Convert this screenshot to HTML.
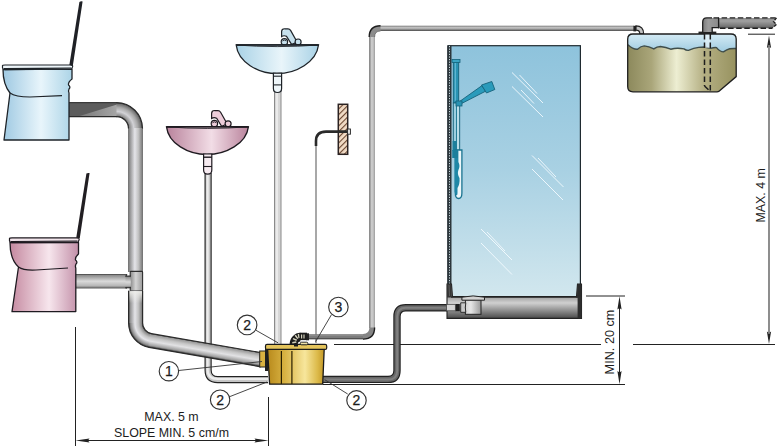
<!DOCTYPE html>
<html><head><meta charset="utf-8"><style>
html,body{margin:0;padding:0;background:#fff;}
svg{display:block;}
text{font-family:"Liberation Sans",sans-serif;fill:#1c1c1c;}
</style></head><body>
<svg width="780" height="448" viewBox="0 0 780 448">
<defs>
<linearGradient id="gBlue" x1="0" y1="0" x2="1" y2="0">
<stop offset="0" stop-color="#9fc9e2"/><stop offset="0.55" stop-color="#e8f5fb"/><stop offset="1" stop-color="#acd4e7"/></linearGradient>
<linearGradient id="gPink" x1="0" y1="0" x2="1" y2="0">
<stop offset="0" stop-color="#c4889f"/><stop offset="0.57" stop-color="#f7e6ed"/><stop offset="1" stop-color="#c28fa8"/></linearGradient>
<linearGradient id="gSinkB" x1="0" y1="0" x2="1" y2="0">
<stop offset="0" stop-color="#a9d2e6"/><stop offset="0.55" stop-color="#e9f5fa"/><stop offset="1" stop-color="#a9d2e6"/></linearGradient>
<linearGradient id="gSinkP" x1="0" y1="0" x2="1" y2="0">
<stop offset="0" stop-color="#b9839c"/><stop offset="0.55" stop-color="#f2dde6"/><stop offset="1" stop-color="#b9839c"/></linearGradient>
<linearGradient id="gPipeV" x1="0" y1="0" x2="1" y2="0">
<stop offset="0" stop-color="#2e2e2e"/><stop offset="0.08" stop-color="#8a8a8a"/><stop offset="0.45" stop-color="#e4e4e8"/><stop offset="0.7" stop-color="#c2c2c2"/><stop offset="0.92" stop-color="#8a8a8a"/><stop offset="1" stop-color="#2e2e2e"/></linearGradient>
<linearGradient id="gPipeH" x1="0" y1="0" x2="0" y2="1">
<stop offset="0" stop-color="#2e2e2e"/><stop offset="0.08" stop-color="#666"/><stop offset="0.4" stop-color="#6e6e6e"/><stop offset="0.75" stop-color="#a8a8a8"/><stop offset="0.92" stop-color="#8a8a8a"/><stop offset="1" stop-color="#2e2e2e"/></linearGradient>
<linearGradient id="gPipeH2" x1="0" y1="0" x2="0" y2="1">
<stop offset="0" stop-color="#2e2e2e"/><stop offset="0.08" stop-color="#8a8a8a"/><stop offset="0.5" stop-color="#dadada"/><stop offset="0.8" stop-color="#b8b8b8"/><stop offset="0.92" stop-color="#8a8a8a"/><stop offset="1" stop-color="#2e2e2e"/></linearGradient>
<linearGradient id="gPipeV2" x1="0" y1="0" x2="1" y2="0">
<stop offset="0" stop-color="#858585"/><stop offset="0.2" stop-color="#9a9a9a"/><stop offset="0.45" stop-color="#d2d2d2"/><stop offset="0.75" stop-color="#bcbcbc"/><stop offset="1" stop-color="#9c9c9c"/></linearGradient>
<linearGradient id="gPipeH3" x1="0" y1="0" x2="0" y2="1">
<stop offset="0" stop-color="#7e7e7e"/><stop offset="0.15" stop-color="#999"/><stop offset="0.4" stop-color="#cacaca"/><stop offset="0.7" stop-color="#8e8e8e"/><stop offset="0.9" stop-color="#5e5e5e"/><stop offset="1" stop-color="#777"/></linearGradient>
<linearGradient id="gTrap" x1="0" y1="0" x2="1" y2="0">
<stop offset="0" stop-color="#d0d0d0"/><stop offset="0.35" stop-color="#e6e6e6"/><stop offset="1" stop-color="#9a9a9a"/></linearGradient>
<linearGradient id="gTopLight" gradientUnits="userSpaceOnUse" x1="80" y1="0" x2="117" y2="0">
<stop offset="0" stop-color="#7a7a7a"/><stop offset="1" stop-color="#a6a6a6"/></linearGradient>
<radialGradient id="gBendTop" gradientUnits="userSpaceOnUse" cx="116.5" cy="128.6" r="26">
<stop offset="0.4615" stop-color="#2e2e2e"/><stop offset="0.505" stop-color="#8a8a8a"/><stop offset="0.66" stop-color="#d2d2d6"/><stop offset="0.82" stop-color="#a8a8a8"/><stop offset="0.95" stop-color="#707070"/><stop offset="1" stop-color="#2e2e2e"/></radialGradient>
<radialGradient id="gBendLow" gradientUnits="userSpaceOnUse" cx="153.3" cy="323.05" r="24.7">
<stop offset="0.433" stop-color="#2e2e2e"/><stop offset="0.48" stop-color="#8a8a8a"/><stop offset="0.6" stop-color="#c2c2c2"/><stop offset="0.745" stop-color="#e4e4e8"/><stop offset="0.92" stop-color="#8a8a8a"/><stop offset="1" stop-color="#2e2e2e"/></radialGradient>
<linearGradient id="gDiag" gradientUnits="userSpaceOnUse" x1="151.47" y1="333.59" x2="149.08" y2="347.38">
<stop offset="0" stop-color="#2e2e2e"/><stop offset="0.08" stop-color="#9a9a9a"/><stop offset="0.3" stop-color="#c6c6c6"/><stop offset="0.55" stop-color="#e2e2e4"/><stop offset="0.85" stop-color="#a0a0a0"/><stop offset="1" stop-color="#2e2e2e"/></linearGradient>
<linearGradient id="gTee" x1="0" y1="0" x2="1" y2="0">
<stop offset="0" stop-color="#8a8a8a"/><stop offset="0.45" stop-color="#d4d4d4"/><stop offset="1" stop-color="#9a9a9a"/></linearGradient>
<linearGradient id="gFadeW" x1="0" y1="0" x2="0" y2="1">
<stop offset="0" stop-color="#eeeeea" stop-opacity="0.95"/><stop offset="1" stop-color="#eeeeea" stop-opacity="0"/></linearGradient>
<linearGradient id="gVentV" x1="0" y1="0" x2="1" y2="0">
<stop offset="0" stop-color="#7c7c7c"/><stop offset="0.35" stop-color="#9c9c9c"/><stop offset="1" stop-color="#8a8a8a"/></linearGradient>
<linearGradient id="gVentH" x1="0" y1="0" x2="0" y2="1">
<stop offset="0" stop-color="#8c8c8c"/><stop offset="0.3" stop-color="#a0a0a0"/><stop offset="0.7" stop-color="#7e7e7e"/><stop offset="1" stop-color="#5e5e5e"/></linearGradient>
<linearGradient id="gGold" x1="0" y1="0" x2="1" y2="0">
<stop offset="0" stop-color="#b88a1c"/><stop offset="0.3" stop-color="#d8b242"/><stop offset="0.66" stop-color="#f7e69c"/><stop offset="0.88" stop-color="#dcba4a"/><stop offset="1" stop-color="#c49826"/></linearGradient>
<linearGradient id="gGlass" x1="0" y1="0" x2="0" y2="1">
<stop offset="0" stop-color="#8ec3dc"/><stop offset="0.5" stop-color="#a9d1e3"/><stop offset="1" stop-color="#d2e7ee"/></linearGradient>
<linearGradient id="gTank" x1="0" y1="0" x2="1" y2="0">
<stop offset="0" stop-color="#8c895c"/><stop offset="0.22" stop-color="#aaa67a"/><stop offset="0.45" stop-color="#edeed2"/><stop offset="0.7" stop-color="#b5b084"/><stop offset="1" stop-color="#97925f"/></linearGradient>
<linearGradient id="gWater" x1="0" y1="0" x2="0" y2="1">
<stop offset="0" stop-color="#d4ebf5"/><stop offset="1" stop-color="#9fcbe0"/></linearGradient>
<linearGradient id="gTray" x1="0" y1="0" x2="0" y2="1">
<stop offset="0" stop-color="#4a4a4a"/><stop offset="0.35" stop-color="#9a9a9a"/><stop offset="0.55" stop-color="#d0d0d0"/><stop offset="1" stop-color="#4a4a4a"/></linearGradient>
<linearGradient id="gDark" x1="0" y1="0" x2="0" y2="1">
<stop offset="0" stop-color="#555"/><stop offset="0.5" stop-color="#8a8a8a"/><stop offset="1" stop-color="#555"/></linearGradient>
<pattern id="hatch" width="4" height="4" patternUnits="userSpaceOnUse" patternTransform="rotate(45)">
<rect width="4" height="4" fill="#f2dcc6"/><rect width="1.1" height="4" fill="#6a4630"/></pattern>
</defs>

<!-- ===== dimension lines ===== -->
<g stroke="#222" stroke-width="1" fill="none">
<line x1="75.5" y1="327" x2="75.5" y2="446"/>
<line x1="268.5" y1="397" x2="268.5" y2="446"/>
<line x1="80" y1="440.5" x2="264" y2="440.5"/>
<line x1="334" y1="344.5" x2="601" y2="344.5"/>
<line x1="633" y1="344.5" x2="775" y2="344.5"/>
<line x1="323" y1="384.5" x2="625" y2="384.5"/>
<line x1="586" y1="296" x2="625" y2="296"/>
<line x1="748" y1="34.2" x2="775" y2="34.2"/>
<line x1="619.5" y1="300" x2="619.5" y2="380"/>

</g>
<g fill="#222">
<path d="M75.5,440.5 L89.5,438.4 L88,440.5 L89.5,442.6 Z"/>
<path d="M268.5,440.5 L254.5,438.4 L256,440.5 L254.5,442.6 Z"/>
<path d="M619.5,296.3 L617.4,309.5 L619.5,308 L621.6,309.5 Z"/>
<path d="M619.5,384.2 L617.4,371 L619.5,372.5 L621.6,371 Z"/>
<path d="M769,35.4 L766.9,48 L769,46.5 L771.1,48 Z"/>
<path d="M769,344 L766.9,331.4 L769,332.9 L771.1,331.4 Z"/>
</g>

<line x1="769" y1="45" x2="769" y2="334" stroke="#7a7a7a" stroke-width="1.7"/>
<!-- ===== thin pipes (behind) ===== -->
<!-- blue sink pipe -->
<rect x="274.5" y="88" width="6.5" height="258" fill="#d6d6d6" stroke="#8a8a8a" stroke-width="1"/>
<line x1="277" y1="92" x2="277" y2="345" stroke="#f0f0f0" stroke-width="1.5"/>
<!-- wall tap thin pipe -->
<line x1="316" y1="146" x2="316" y2="343" stroke="#a8a8a8" stroke-width="2"/>
<!-- pink sink pipe -->
<path d="M208.1,173 L208.1,370 Q208.1,379.6 217.7,379.6 L268,379.6" fill="none" stroke="#222" stroke-width="7.2"/>
<path d="M208.1,173 L208.1,370 Q208.1,379.6 217.7,379.6 L268,379.6" fill="none" stroke="#c6c6c6" stroke-width="4.9"/>
<path d="M207.6,174 L207.6,370 Q207.6,378.9 217.7,378.9 L268,378.9" fill="none" stroke="#ececec" stroke-width="2.2"/>

<!-- pump to tank pipe -->
<rect x="369" y="36" width="6" height="292" fill="url(#gPipeV2)"/>
<rect x="380" y="25.7" width="254" height="5.3" fill="url(#gPipeH3)"/>
<path d="M372,37 Q372,28.35 380.5,28.35" fill="none" stroke="#8c8c8c" stroke-width="5.4"/>
<path d="M369.2,37 Q369.2,25.7 380.5,25.7" fill="none" stroke="#1e1e1e" stroke-width="1.4"/>
<path d="M374.6,37 Q374.6,31 380.5,31" fill="none" stroke="#6a6a6a" stroke-width="0.8"/>
<rect x="306" y="334.2" width="57.5" height="4.9" fill="#7b7b7b"/>
<line x1="306" y1="338.8" x2="363.5" y2="338.8" stroke="#3a3a3a" stroke-width="0.9"/>
<line x1="306" y1="335.6" x2="363.5" y2="335.6" stroke="#8e8e8e" stroke-width="1"/>
<path d="M363,336.6 Q372,336.6 372,327.5" fill="none" stroke="#858585" stroke-width="5.2"/>
<path d="M363,339.1 Q374.6,339.1 374.6,327.5" fill="none" stroke="#1e1e1e" stroke-width="1.4"/>
<!-- shower drain pipe -->
<path d="M322,379.4 L388,379.4 Q397,379.4 397,370.4 L397,316.6 Q397,307.8 405.8,307.8 L448,307.8" fill="none" stroke="#222" stroke-width="7.4"/>
<path d="M322,379.4 L388,379.4 Q397,379.4 397,370.4 L397,316.6 Q397,307.8 405.8,307.8 L448,307.8" fill="none" stroke="#666" stroke-width="5"/>
<path d="M322,379.6 L388,379.6 Q397.2,379.6 397.2,370.4 L397.2,316.6 Q397.2,307.8 405.8,307.8 L448,307.8" fill="none" stroke="#808080" stroke-width="2"/>

<!-- ===== big toilet pipes ===== -->
<g id="bigpipe">
<!-- top horizontal -->
<rect x="68" y="102.6" width="49" height="14" fill="#5c5c5c"/>
<path d="M78,116.6 L117,104.6 L117,116.6 Z" fill="url(#gTopLight)"/>
<line x1="68" y1="102.6" x2="117" y2="102.6" stroke="#3a3a3a" stroke-width="1.1"/>
<line x1="68" y1="116.6" x2="117" y2="116.6" stroke="#2a2a2a" stroke-width="1.1"/>
<path d="M116.5,102.6 A26,26 0 0 1 142.5,128.6 L128.5,128.6 A12,12 0 0 0 116.5,116.6 Z" fill="url(#gBendTop)"/>
<path d="M116.5,102.6 A26,26 0 0 1 142.5,128.6" fill="none" stroke="#2a2a2a" stroke-width="1.2"/>
<path d="M116.5,116.6 A12,12 0 0 1 128.5,128.6" fill="none" stroke="#2a2a2a" stroke-width="1.2"/>
<!-- vertical -->
<rect x="128.3" y="128" width="14.4" height="144" fill="url(#gPipeV)"/>
<!-- pink toilet horizontal -->
<rect x="74" y="274" width="53" height="14.4" fill="url(#gPipeH2)"/>
<!-- T -->
<rect x="130.2" y="271.4" width="12.4" height="19.4" rx="0.8" fill="url(#gTee)" stroke="#2e2e2e" stroke-width="1.1"/>
<rect x="125.5" y="276" width="5.4" height="11.8" fill="url(#gPipeH2)"/>
<path d="M125.5,276 L131,276 M125.5,287.8 L131,287.8" stroke="#2e2e2e" stroke-width="1"/>
<path d="M126.8,274.2 Q126.8,276 125.5,276 M126.8,288.2 Q126.8,287.8 125.5,287.8" stroke="#2e2e2e" stroke-width="1" fill="none"/>

<!-- lower vertical + bend + diagonal -->
<rect x="128.6" y="290.7" width="14" height="33" fill="url(#gPipeV)"/>
<rect x="129.2" y="291.2" width="12.8" height="12" fill="url(#gFadeW)"/>
<path d="M128.6,323.05 A24.7,24.7 0 0 0 149.08,347.38 L151.47,333.59 A10.7,10.7 0 0 1 142.6,323.05 Z" fill="url(#gBendLow)"/>
<path d="M148.1,347.2 L260.8,366.8 L263.2,353.0 L150.5,333.4 Z" fill="url(#gDiag)"/>
<g fill="none" stroke="#2a2a2a" stroke-width="1.2">
<path d="M128.6,290.7 L128.6,323.05 A24.7,24.7 0 0 0 149.08,347.38 L260.8,366.8"/>
<path d="M142.6,290.7 L142.6,323.05 A10.7,10.7 0 0 0 151.47,333.59 L263.2,353.0"/>
</g>
</g>

<!-- ===== toilets ===== -->
<g id="toiletB">
<path d="M79.4,2 Q80.8,0.9 82.6,1.5 L72.8,66 L69.2,66 Z" fill="#1f2126"/>
<path d="M3,69.5 C3,80 6,88 10,93 L4,140 L69,140 L69,93 Q68,91 69,89 Q71,87 68.5,85 Q68,82 72,79 L72,69 Z" fill="url(#gBlue)" stroke="#1e2328" stroke-width="1.3" stroke-linejoin="round"/>
<path d="M10,93 C14,96 20,97 30,97 L62,95.6" fill="none" stroke="#1e2328" stroke-width="1.2"/>
<path d="M2.5,66.2 Q2,65 5,65 L70,65 Q73.5,65 72.5,67 L71.5,69 L5,69.6 Q2,69.4 2.5,66.2 Z" fill="#eef6fa" stroke="#1e2328" stroke-width="1.2"/>
<line x1="4" y1="68.6" x2="71" y2="68.2" stroke="#1e2328" stroke-width="1.2"/>
</g>
<g id="toiletP">
<path d="M86.4,173.6 Q87.8,172.5 89.6,173.1 L79.8,238 L76.2,238 Z" fill="#211e22"/>
<path d="M10,242.5 C10,253 13,262 18.5,267 L12,311.6 L75.8,311.6 L75.8,268 Q75,266 76,264 Q78,262 75.5,260 Q75,257 78.5,254 L78.5,242.5 Z" fill="url(#gPink)" stroke="#1e1a20" stroke-width="1.3" stroke-linejoin="round"/>
<path d="M18.5,267 C22,269.5 27,270.5 36,270 L68,268" fill="none" stroke="#1e1a20" stroke-width="1.2"/>
<path d="M9.5,239 Q9,237.8 12,237.8 L76.5,237.8 Q80,237.8 79,240 L78,242.3 L12,242.6 Q9,242.4 9.5,239 Z" fill="#f3e6ec" stroke="#1e1a20" stroke-width="1.2"/>
<line x1="11" y1="241.5" x2="77.5" y2="241.2" stroke="#1e1a20" stroke-width="1.2"/>
</g>

<!-- ===== sinks ===== -->
<g id="sinkB">
<!-- faucet -->
<g id="fauB" stroke="#1e2328" stroke-width="1.2" fill="#c6e0ec">
<path d="M281.6,36.6 L281.6,31.6 Q281.6,28.8 284.6,28.8 L288,28.8 Q289.6,28.8 290.6,30.4 L297.2,42.2 L291.6,44.4 L286.6,36.4 Q284,35 281.6,36.6 Z"/>
<path d="M283,30.5 L284.5,30" stroke="#eef7fb" stroke-width="1" fill="none"/>
<circle cx="284.4" cy="41.8" r="3.2"/>
<circle cx="298.1" cy="42" r="3"/>
<path d="M282.4,41 Q284.4,39 286.4,41" fill="none" stroke-width="0.9"/>
</g>
<path d="M236.2,45 C238,62 258,73.6 277,73.6 C296,73.6 316.5,62 318.5,45 Z" fill="url(#gSinkB)" stroke="#1e2328" stroke-width="1.3"/>
<path d="M236.2,45 L318.5,45 Q277,48.2 236.2,45 Z" fill="#cfe4ee" stroke="#1e2328" stroke-width="0.9"/>
<line x1="236.2" y1="45" x2="318.5" y2="45" stroke="#1e2328" stroke-width="1.5"/>
<path d="M273.4,73.2 L281.6,73.2 L281.6,88.5 Q281.6,92.5 277.5,92.5 Q273.4,92.5 273.4,88.5 Z" fill="#eef6fa" stroke="#1e2328" stroke-width="1.2"/>
<line x1="273.4" y1="76.2" x2="281.6" y2="76.2" stroke="#1e2328" stroke-width="1.1"/>
<line x1="273.4" y1="84.9" x2="281.6" y2="84.9" stroke="#1e2328" stroke-width="1.1"/>
</g>
<g id="sinkP">
<g id="fauP" transform="translate(-70,81.8)" stroke="#1e1a20" stroke-width="1.2" fill="#ecccd9">
<path d="M281.6,36.6 L281.6,31.6 Q281.6,28.8 284.6,28.8 L288,28.8 Q289.6,28.8 290.6,30.4 L297.2,42.2 L291.6,44.4 L286.6,36.4 Q284,35 281.6,36.6 Z"/>
<path d="M283,30.5 L284.5,30" stroke="#f8e8ef" stroke-width="1" fill="none"/>
<circle cx="284.4" cy="41.8" r="3.2"/>
<circle cx="298.1" cy="42" r="3"/>
<path d="M282.4,41 Q284.4,39 286.4,41" fill="none" stroke-width="0.9"/>
</g>
<path d="M166.5,126.8 C168.5,143.5 188,154.5 207,154.5 C226,154.5 246.4,143.5 248.4,126.8 Z" fill="url(#gSinkP)" stroke="#1e1a20" stroke-width="1.3"/>
<path d="M166.5,126.8 L248.4,126.8 Q207,130 166.5,126.8 Z" fill="#e8d0da" stroke="#1e1a20" stroke-width="0.9"/>
<line x1="166.5" y1="126.8" x2="248.4" y2="126.8" stroke="#1e1a20" stroke-width="1.5"/>
<path d="M203.6,154 L211.8,154 L211.8,170 Q211.8,174.1 207.7,174.1 Q203.6,174.1 203.6,170 Z" fill="#f6eaf0" stroke="#1e1a20" stroke-width="1.2"/>
<line x1="203.6" y1="157.2" x2="211.8" y2="157.2" stroke="#1e1a20" stroke-width="1.4"/>
<line x1="203.6" y1="166.5" x2="211.8" y2="166.5" stroke="#1e1a20" stroke-width="1.1"/>
</g>

<!-- ===== wall tap ===== -->
<rect x="338.3" y="104.3" width="9.4" height="50" fill="url(#hatch)" stroke="#2a2222" stroke-width="1.5"/>
<path d="M316,146 L316,141 Q316,131.6 326,131.6 L348,131.6" fill="none" stroke="#2a2a2a" stroke-width="2.6"/>
<rect x="347.5" y="129" width="3" height="5.2" fill="#ddd" stroke="#2a2a2a" stroke-width="0.9"/>

<!-- ===== pump ===== -->
<g id="pump">
<rect x="259.7" y="351" width="6.5" height="16" fill="#d8b040" stroke="#222" stroke-width="1"/>
<rect x="265" y="346" width="3.2" height="25" fill="#1e1e1e"/>
<path d="M267.6,349 L324.2,349 L322.7,384.2 L269.6,384.2 Z" fill="url(#gGold)" stroke="#1a1a1a" stroke-width="1.3" stroke-linejoin="round"/>
<line x1="281.4" y1="351" x2="281.4" y2="384" stroke="#2a2000" stroke-width="1.2"/>
<line x1="291.9" y1="351" x2="291.9" y2="384" stroke="#2a2000" stroke-width="1.2"/>
<rect x="265.5" y="344.4" width="61.2" height="5" rx="1.5" fill="#e4c45c" stroke="#1a1a1a" stroke-width="1.2"/>
<rect x="294" y="344.5" width="4" height="2" fill="#1a1a1a"/>
<rect x="300.4" y="342.2" width="7.4" height="2.6" rx="1" fill="#efe2a8" stroke="#1a1a1a" stroke-width="0.9"/>
<!-- black elbow -->
<path d="M289.6,344.4 A10.8,11.6 0 0 1 300.4,332.8 L300.4,341.6 A2.6,2.8 0 0 0 297.8,344.4 Z" fill="#1c1c1c"/>
<g stroke="#d4d2bc" stroke-width="1.5"><line x1="292.3" y1="342.8" x2="296.3" y2="342"/><line x1="293" y1="338.6" x2="296.7" y2="340.3"/><line x1="295.2" y1="335.2" x2="297.8" y2="338.6"/><line x1="298.4" y1="334" x2="299.2" y2="338"/></g>
<rect x="299.6" y="332.7" width="7.4" height="7.4" fill="#1c1c1c"/>
<g stroke="#d4d2bc" stroke-width="1.2"><line x1="301.6" y1="334.6" x2="301.6" y2="338.4"/><line x1="304" y1="334.6" x2="304" y2="338.4"/></g>
<rect x="306.2" y="333.3" width="2.8" height="7" fill="#222"/>
</g>

<!-- ===== shower ===== -->
<rect x="448" y="45.7" width="132.4" height="252" fill="url(#gGlass)" stroke="#1f2a30" stroke-width="1.2"/>
<g stroke="#f4fbff" stroke-width="1" opacity="0.9">
<line x1="512" y1="72.5" x2="543" y2="103"/><line x1="519.5" y1="75" x2="537" y2="93.5"/>
<line x1="512" y1="86.5" x2="543" y2="117"/><line x1="521" y1="90" x2="534" y2="103.5"/>
<line x1="532" y1="155.5" x2="563.5" y2="187"/><line x1="538" y1="158" x2="556" y2="177"/>
<line x1="532" y1="169" x2="563" y2="200"/>
<line x1="481" y1="229" x2="512" y2="260"/><line x1="487" y1="232" x2="505" y2="251"/>
<line x1="481" y1="243" x2="512" y2="274.5"/>
</g>
<!-- hinge / edge -->
<rect x="447.3" y="45.7" width="4.2" height="252" fill="#2c363b"/>
<line x1="449.5" y1="46" x2="449.5" y2="297" stroke="#c8d8de" stroke-width="1" stroke-dasharray="1.2,1.4"/>
<!-- riser -->
<rect x="453.3" y="61" width="5.4" height="42" fill="#2a93b3" stroke="#16627a" stroke-width="0.9"/>
<line x1="455.3" y1="63" x2="455.3" y2="101" stroke="#6cbfd8" stroke-width="1"/>
<rect x="453.3" y="103" width="6.4" height="47" fill="#9ccfe0" stroke="#16627a" stroke-width="0.9"/>
<line x1="456.5" y1="105" x2="456.5" y2="150" stroke="#1a7490" stroke-width="0.9"/>
<line x1="458" y1="105" x2="458" y2="150" stroke="#e6f4f8" stroke-width="0.8"/>
<rect x="452.6" y="141" width="4" height="10" fill="#1d7f9c"/>
<rect x="452" y="59.4" width="8" height="3" fill="#3ba4c2" stroke="#16627a" stroke-width="0.8"/>
<!-- hose loop -->
<path d="M455.3,150 L455.3,193 Q455.3,198.5 458.6,198.5 Q461.9,198.5 461.9,193 L461.9,150 Z" fill="#eef7fa" stroke="#1a7490" stroke-width="1.3"/>
<path d="M454.6,151 L458.4,151 L458.4,162 Q460.5,166 458.4,170 Q457,174 459.5,178 Q460,184 457.5,188 L457.5,193 Q457.5,196 456,195 L454.6,192 Z" fill="#1f87a6"/>
<path d="M452.2,150 L458,150 L458,158 L452.2,158 Z" fill="#1d7f9c"/>
<!-- handle & head -->
<path d="M458.6,102.2 L482,85.6 L485.6,91.2 L460,104.3 Z" fill="#2a9bbb" stroke="#16627a" stroke-width="0.9"/>
<path d="M481.5,85 L491.8,81.5 L494.8,89.5 L486.5,93 Z" fill="#2a9bbb" stroke="#16627a" stroke-width="0.9"/>
<rect x="456" y="101" width="6" height="5" fill="#2a93b3" stroke="#16627a" stroke-width="0.8"/>
<!-- tray -->
<path d="M447,284 L451.5,284 L452.5,296.5 L576.5,296.5 L577.5,284 L581.5,284 L581.5,318.4 L447,318.4 Z" fill="url(#gTray)" stroke="#222" stroke-width="1.1"/>
<line x1="451" y1="297" x2="578" y2="297" stroke="#222" stroke-width="1.5"/>
<path d="M447,284 L451.3,284 L451.8,296 L452.8,297.5 L447,297.5 Z" fill="#353535"/>
<path d="M581.5,284 L577.4,284 L577,296 L575.8,297.5 L581.5,297.5 Z" fill="#2c2c2c"/>
<rect x="577.6" y="297" width="4" height="21.4" fill="#2e2e2e"/>
<line x1="449" y1="285" x2="449.5" y2="296" stroke="#666" stroke-width="0.8"/>
<!-- drain trap -->
<rect x="465.4" y="299.8" width="15.6" height="14.5" fill="url(#gTrap)" stroke="#222" stroke-width="1"/>
<path d="M461.9,297.2 Q473,294.6 484.5,297.2 L484.5,300.2 L461.9,300.2 Z" fill="#d2d2d2" stroke="#222" stroke-width="1"/>
<path d="M460.7,302.8 L465.8,302.8 Q464.8,307.5 465.8,312.3 L460.7,312.3 Z" fill="#c8c8c8" stroke="#222" stroke-width="0.9"/>
<rect x="455.2" y="304" width="4.6" height="7.2" fill="#1e1e1e"/>
<rect x="446.5" y="304.5" width="8.8" height="6.3" fill="#d6d6d6" stroke="#444" stroke-width="0.7"/>

<!-- ===== tank ===== -->
<path d="M633.4,25.8 L636.2,25.8 L636.2,31.4 L633.4,31.4 Z" fill="#222"/>
<path d="M636,25.8 Q643.6,25.8 643.6,33.8 L639.8,33.8 Q639.8,30.2 636,30.2 Z" fill="#c4c4c4" stroke="#222" stroke-width="1.2"/>
<path d="M633,34 L731,34 Q736.2,34 736.2,39 L736.2,76.6 L719,91.2 Q718.3,91.8 717,91.8 L633,91.8 Q627.7,91.8 627.7,86.5 L627.7,39.3 Q627.7,34 633,34 Z" fill="url(#gTank)"/>
<path d="M628,34 L736,34 L736,48.5 Q733,48.3 729.7,48.8 Q727,49.5 723.4,51.9 Q720,51.8 716.5,47.6 Q714,47.4 710.5,48.4 L704,47 Q702,47 698.7,47.4 Q694,48 688.4,50.4 Q686,50.5 684,48.9 Q677,47.5 670.7,49.2 Q666,47 660.4,46.5 Q657,46.5 653.8,48.9 Q649,46.5 644.2,45.9 Q641,46 637.5,49.2 Q633,49.5 628,44.7 Z" fill="url(#gWater)"/>
<path d="M628,44.7 Q633,49.5 637.5,49.2 Q641,46 644.2,45.9 Q649,46.5 653.8,48.9 Q657,46.5 660.4,46.5 Q666,47 670.7,49.2 Q677,47.5 684,48.9 Q686,50.5 688.4,50.4 Q694,48 698.7,47.4 Q702,47 704,47 L710.5,48.4 Q714,47.4 716.5,47.6 Q720,51.8 723.4,51.9 Q727,49.5 729.7,48.8 Q733,48.3 736,48.5" fill="none" stroke="#3f4d4a" stroke-width="1.4"/>
<path d="M633,34 L731,34 Q736.2,34 736.2,39 L736.2,76.6 L719,91.2 Q718.3,91.8 717,91.8 L633,91.8 Q627.7,91.8 627.7,86.5 L627.7,39.3 Q627.7,34 633,34 Z" fill="none" stroke="#1e1e1e" stroke-width="1.3"/>
<rect x="705" y="34.5" width="5" height="13.5" fill="#eef7fb" opacity="0.55"/>
<g stroke="#1e1e1e" stroke-width="1.5" stroke-dasharray="5.5,3" fill="none">
<line x1="704.5" y1="34" x2="704.5" y2="86"/><line x1="710.3" y1="34" x2="710.3" y2="91"/>
<line x1="704.5" y1="86" x2="710.3" y2="91.5"/>
</g>
<rect x="698.5" y="31.6" width="17.8" height="2.4" fill="#222"/>
<!-- vent pipe -->
<path d="M702.7,32 L702.7,22 Q702.7,17.9 706.8,17.9 L718.6,17.9 L718.6,27.6 L712.2,27.6 L712.2,32 Z" fill="url(#gVentV)"/>
<path d="M702.7,32 L702.7,22 Q702.7,17.9 706.8,17.9 L712,17.9 M718.6,27.6 L712.2,27.6 L712.2,32" fill="none" stroke="#1e1e1e" stroke-width="1.3"/>
<path d="M718.6,17.9 L776.5,17.9 L773.5,21.5 L776.5,24.5 L772,28.2 L718.6,28.2 Z" fill="url(#gVentH)"/>
<line x1="718.6" y1="17.6" x2="718.6" y2="28.4" stroke="#1e1e1e" stroke-width="1.3"/>
<g stroke="#1e1e1e" stroke-width="1.35" stroke-dasharray="5.5,2.6" fill="none">
<line x1="713.5" y1="17.9" x2="776.5" y2="17.9"/><line x1="720" y1="28.2" x2="772" y2="28.2"/>
<path d="M776.5,17.9 L773.5,21.5 L776.5,24.5 L772,28.2" stroke-dasharray="3,1.5"/>
</g>

<!-- ===== callouts ===== -->
<g stroke="#333" stroke-width="0.9" fill="none">
<line x1="178.6" y1="370.5" x2="262" y2="361.5"/>
<line x1="255.5" y1="330" x2="278" y2="342.8"/>
<line x1="228.8" y1="397" x2="267" y2="382"/>
<line x1="347.7" y1="394" x2="324.6" y2="379.6"/>
<line x1="331.4" y1="314.8" x2="315.6" y2="341.6"/>
</g>
<g fill="#fff" stroke="#333" stroke-width="1.15">
<circle cx="168.9" cy="371.2" r="9.7"/>
<circle cx="247.1" cy="324.9" r="9.8"/>
<circle cx="220.1" cy="399.7" r="9.7"/>
<circle cx="356.5" cy="400.4" r="9.7"/>
<circle cx="338.4" cy="307" r="9.75"/>
</g>
<g font-size="14" text-anchor="middle" style="stroke:#1c1c1c;stroke-width:0.25">
<text x="168.9" y="376.2">1</text>
<text x="247.1" y="329.9">2</text>
<text x="220.1" y="404.7">2</text>
<text x="356.5" y="405.4">2</text>
<text x="338.4" y="312.1">3</text>
</g>

<!-- ===== labels ===== -->
<g font-size="12.4">
<text x="171.5" y="421" text-anchor="middle">MAX. 5 m</text>
<text x="171.5" y="436.5" text-anchor="middle">SLOPE MIN. 5 cm/m</text>
<text transform="translate(764.8,195.3) rotate(-90)" text-anchor="middle">MAX. 4 m</text>
<text transform="translate(613.9,342) rotate(-90)" font-size="12.7" text-anchor="middle">MIN. 20 cm</text>
</g>
</svg>
</body></html>
